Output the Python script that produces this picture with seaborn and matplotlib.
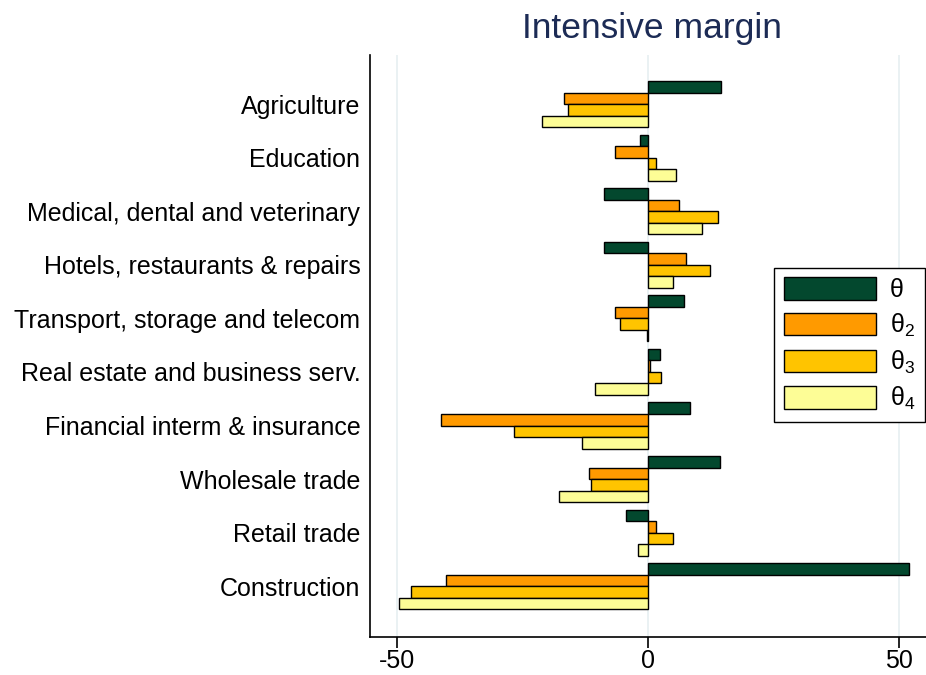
import matplotlib
matplotlib.use('Agg')
import matplotlib.pyplot as plt
import pandas as pd
import seaborn as sns

# data (percent)
sectors = ['Agriculture', 'Education', 'Medical, dental and veterinary',
           'Hotels, restaurants & repairs', 'Transport, storage and telecom',
           'Real estate and business serv.', 'Financial interm & insurance',
           'Wholesale trade', 'Retail trade', 'Construction']
theta = [14.5, -1.5, -8.7, -8.7, 7.2, 2.3, 8.3, 14.3, -4.4, 52.0]
theta2 = [-16.8, -6.6, 6.1, 7.6, -6.6, 0.3, -41.2, -11.7, 1.6, -40.2]
theta3 = [-15.9, 1.5, 14.0, 12.3, -5.6, 2.5, -26.8, -11.4, 4.9, -47.3]
theta4 = [-21.1, 5.5, 10.7, 4.9, -0.3, -10.5, -13.1, -17.7, -2.0, -49.6]
series = ['θ', 'θ$_2$', 'θ$_3$', 'θ$_4$']
colors = ['#03482e', '#ff9a00', '#ffc400', '#fdfd96']

df = pd.DataFrame({'sector': sectors * 4,
                   'value': theta + theta2 + theta3 + theta4,
                   'series': [s for s in series for _ in sectors]})

sns.set_style('white')
plt.rcParams['font.family'] = ['Liberation Sans', 'DejaVu Sans']
plt.rcParams['mathtext.fontset'] = 'custom'
plt.rcParams['mathtext.rm'] = 'Liberation Sans'
plt.rcParams['mathtext.it'] = 'Liberation Sans'
plt.rcParams['text.color'] = 'black'
plt.rcParams['xtick.color'] = 'black'
plt.rcParams['ytick.color'] = 'black'

fig = plt.figure(figsize=(9.26, 6.75), dpi=100)
ax = fig.add_axes([0.3996, 0.0563, 0.6004, 0.8622])

sns.barplot(data=df, x='value', y='sector', hue='series', order=sectors,
            hue_order=series, palette=colors, saturation=1, orient='h',
            width=0.86, edgecolor='black', linewidth=1.0, ax=ax)

ax.set_xlim(-55.4, 55.4)
ax.set_ylim(9.95, -0.92)
ax.set_xticks([-50, 0, 50])
ax.set_xticklabels(['-50', '0', '50'])
ax.xaxis.grid(True, color='#e6eff1', linewidth=1.2)
ax.set_axisbelow(True)
ax.set_xlabel('')
ax.set_ylabel('')
for s in ['top', 'right']:
    ax.spines[s].set_visible(False)
for s in ['left', 'bottom']:
    ax.spines[s].set_color('black')
    ax.spines[s].set_linewidth(1.2)
ax.tick_params(axis='x', length=8, width=1.2, labelsize=18, pad=1, bottom=True)
ax.tick_params(axis='y', length=0, labelsize=18, pad=7)

fig.text(0.704, 0.958, 'Intensive margin', ha='center', va='center',
         fontsize=25.5, color='#1c2b55')

handles, labels = ax.get_legend_handles_labels()
ax.legend(handles, labels, loc='upper left', bbox_to_anchor=(0.836, 0.603),
          bbox_transform=fig.transFigure, borderaxespad=0, frameon=True,
          fancybox=False, edgecolor='black', framealpha=1, fontsize=18,
          handlelength=3.7, handleheight=1.0, labelspacing=0.38,
          borderpad=0.38, handletextpad=0.55, title=None)
ax.get_legend().get_frame().set_linewidth(1.0)

fig.savefig('out.png', dpi=100)
